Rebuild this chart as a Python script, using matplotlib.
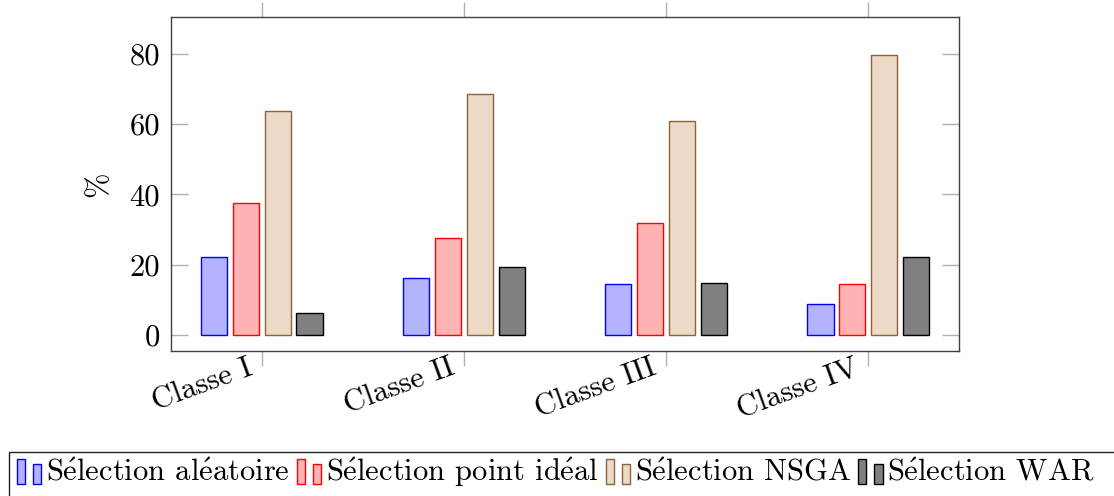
import matplotlib
matplotlib.use("Agg")
import matplotlib.pyplot as plt
import numpy as np
from matplotlib.patches import Rectangle
from matplotlib.legend_handler import HandlerBase
from matplotlib.transforms import ScaledTranslation

plt.rcParams['font.family'] = ['cmr10', 'DejaVu Serif']
plt.rcParams['mathtext.fontset'] = 'cm'
plt.rcParams['axes.formatter.use_mathtext'] = True

# data
classes = ["Classe I", "Classe II", "Classe III", "Classe IV"]
series = ["Sélection aléatoire", "Sélection point idéal", "Sélection NSGA", "Sélection WAR"]
aleatoire = [22.1, 16.1, 14.6, 8.7]
point_ideal = [37.5, 27.7, 32.0, 14.4]
nsga = [63.9, 68.5, 61.0, 79.6]
war = [6.4, 19.3, 14.9, 22.2]
y_ticks = [0, 20, 40, 60, 80]

values = [aleatoire, point_ideal, nsga, war]
fills = ['#b3b3ff', '#ffb3b3', '#ecd9c6', '#808080']
edges = ['#0000ff', '#ff0000', '#8c6239', '#000000']


def tex_accents(s):
    # cmr10 has no precomposed accented letters, so build them with mathtext
    return s.replace("é", r"$\mathrm{\acute{e}}$")


class TwoBars(HandlerBase):
    # pgfplots style ybar legend: one tall and one short bar
    def create_artists(self, legend, orig, xd, yd, width, height, fontsize, trans):
        fc = orig.get_facecolor()
        ec = orig.get_edgecolor()
        w = width * 0.34
        y0 = -yd - height * 0.12
        r1 = Rectangle((-xd, y0), w, height * 1.12, facecolor=fc, edgecolor=ec, lw=1, transform=trans)
        r2 = Rectangle((-xd + width * 0.66, y0), w, height * 0.88, facecolor=fc, edgecolor=ec, lw=1, transform=trans)
        return [r1, r2]


fig = plt.figure(figsize=(11.14, 4.96), dpi=100)
ax = fig.add_axes([171/1114, 1 - 351/496, (959 - 171)/1114, (351 - 16.7)/496])

x = np.arange(len(classes))
step = 0.158
bar_w = 0.132
handles = []
for i in range(4):
    b = ax.bar(x + (i - 1.5) * step, values[i], bar_w, color=fills[i], edgecolor=edges[i], linewidth=1, label=series[i])
    handles.append(b.patches[0])

ax.set_xlim(-0.45, 3.45)
ax.set_ylim(-4.55, 90.6)
ax.set_yticks(y_ticks)
ax.set_yticklabels([str(v) for v in y_ticks])
ax.set_xticks(x)
ax.set_xticklabels(classes, rotation=20, ha='right', va='top', rotation_mode='anchor')
ax.tick_params(axis='y', direction='in', left=True, right=True, length=12, width=1, color='#b0b0b0', labelsize=22, pad=8)
ax.tick_params(axis='x', direction='out', bottom=True, top=True, length=11, width=1, color='#b0b0b0', labelsize=22, pad=0)
shift = ScaledTranslation(-15/100, 12/100, fig.dpi_scale_trans)
for lab in ax.get_xticklabels():
    lab.set_transform(lab.get_transform() + shift)
for s in ax.spines.values():
    s.set_color('#404040')
    s.set_linewidth(1)
ax.set_ylabel("%", fontsize=22, labelpad=12)

# legend box runs off the right and bottom edges, as in the source figure
fig.patches.append(Rectangle((9/1114, -0.05), 1.1, 1.05 - 452/496, transform=fig.transFigure,
                             facecolor='none', edgecolor='#202020', lw=1, clip_on=False))
fig.legend(handles, [tex_accents(s) for s in series], loc='upper left', bbox_to_anchor=(17/1114, 1 - 455/496),
           ncol=4, fontsize=22, frameon=False,
           handler_map={h: TwoBars() for h in handles}, handlelength=0.8, handleheight=0.72,
           handletextpad=0.16, columnspacing=0.22, borderpad=0, borderaxespad=0)

fig.savefig("out.png", dpi=100)
